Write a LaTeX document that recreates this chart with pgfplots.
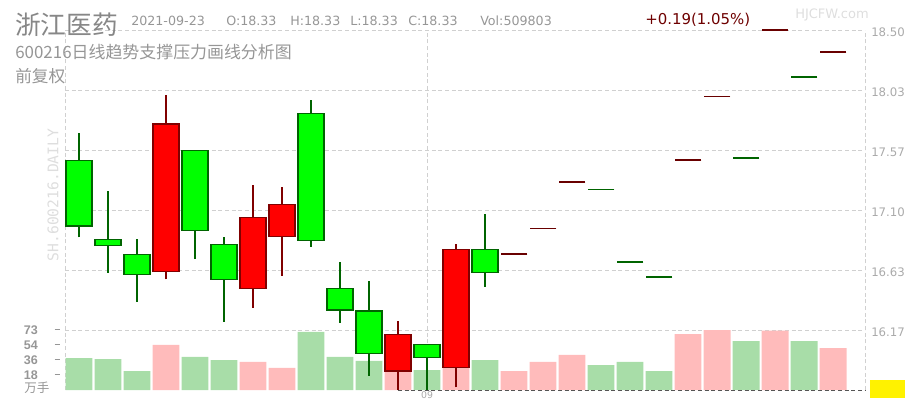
\documentclass[border=0pt]{standalone}
\usepackage{pgfplots}
\pgfplotsset{compat=1.18}
\usepackage{fontspec}
\setmainfont{DejaVu Sans}
\newfontfamily\cjk{Noto Sans CJK SC}
\newfontfamily\lsans{Liberation Sans}
\newfontfamily\mono{DejaVu Sans Mono}
\definecolor{gridc}{RGB}{208,208,208}
\definecolor{txtg}{RGB}{150,150,150}
\definecolor{titleg}{RGB}{135,135,135}
\definecolor{tickg}{RGB}{170,170,170}
\definecolor{wm}{RGB}{222,222,222}
\definecolor{cgreen}{RGB}{0,255,0}
\definecolor{cgreenb}{RGB}{0,100,0}
\definecolor{cred}{RGB}{255,0,0}
\definecolor{credb}{RGB}{128,0,0}
\definecolor{vgreen}{RGB}{168,221,168}
\definecolor{vred}{RGB}{255,187,187}
\definecolor{pred}{RGB}{105,0,0}
\definecolor{pgreen}{RGB}{0,100,0}
\definecolor{chg}{RGB}{110,0,0}
\definecolor{basel}{RGB}{85,85,85}
\pgfplotsset{base/.style={at={(48.75pt,7.5pt)}, anchor=south west, scale only axis,
  width=600pt, height=270pt, xmin=0.5172, xmax=28.1034}}
% candle: position, body top, body bottom, high, low, fill, border
\newcommand{\candle}[7]{%
  \pgfmathsetmacro\xa{#1-0.45}\pgfmathsetmacro\xb{#1+0.45}%
  \addplot[#7, line width=1pt] coordinates {(#1,#5) (#1,#4)};
  \edef\doplot{\noexpand\addplot[fill=#6, draw=#7, line width=1pt, line join=miter, line cap=rect]
    coordinates {(\xa,#3) (\xa,#2) (\xb,#2) (\xb,#3) (\xa,#3)};}\doplot}
\newcommand{\gc}[5]{\candle{#1}{#2}{#3}{#4}{#5}{cgreen}{cgreenb}}
\newcommand{\rc}[5]{\candle{#1}{#2}{#3}{#4}{#5}{cred}{credb}}
\newcommand{\vl}[1]{#1\hspace{12.75pt}{\color{txtg}\rule[2.9pt]{3.75pt}{0.75pt}}}
\begin{document}
\begin{tikzpicture}
\path[use as bounding box] (0,0) rectangle (678.75pt,300pt);
% grid axis
\begin{axis}[base, ymin=15.70, ymax=18.50,
  axis line style={draw=none},
  ytick={16.1667,16.6333,17.1,17.5667,18.0333,18.5},
  yticklabels={16.17,16.63,17.10,17.57,18.03,18.50},
  yticklabel pos=right,
  ymajorgrids, xmajorgrids,
  grid style={gridc, dash pattern=on 3pt off 2pt, line width=0.6pt},
  major tick length=0pt,
  xtick={13}, xticklabels={09},
  extra x ticks={0.5172,28.1034}, extra x tick labels={},
  extra x tick style={grid=major},
  yticklabel style={font=\fontsize{8.8}{10}\selectfont, text=tickg, anchor=west, inner sep=0pt, xshift=4.5pt, yshift=-1.5pt},
  xticklabel style={font=\fontsize{7}{8}\selectfont, text=tickg, anchor=north, inner sep=0pt, yshift=-1.2pt},
]
\end{axis}
% volume axis
\begin{axis}[base, ymin=0, ymax=438,
  axis line style={draw=none}, xtick=\empty,
  ytick={18.25,36.5,54.75,73},
  yticklabels={\vl{18},\vl{36},\vl{54},\vl{73}},
  major tick length=0pt,
  yticklabel style={font=\lsans\bfseries\fontsize{9.4}{10}\selectfont, text=txtg, anchor=east, inner sep=0pt, xshift=-3.75pt},
]
\addplot[ybar, bar width=0.93, bar shift=0pt, fill=vgreen, draw=none] coordinates {
 (1,38.9) (2,37.7) (3,23.1) (5,40.2) (6,36.5) (9,70.6) (10,40.2) (11,35.3) (13,24.3)
 (15,36.5) (19,30.4) (20,34.1) (21,23.1) (24,59.6) (26,59.6)};
\addplot[ybar, bar width=0.93, bar shift=0pt, fill=vred, draw=none] coordinates {
 (4,54.8) (7,34.1) (8,26.8) (12,22.3) (14,27.0) (16,23.1) (17,34.1) (18,42.6)
 (22,68.1) (23,73.0) (25,72.2) (27,51.1)};
\end{axis}
% candle axis
\begin{axis}[base, ymin=15.70, ymax=18.50, hide axis, clip=false]
\addplot[draw=basel, dash pattern=on 3pt off 2pt, line width=0.75pt] coordinates {(12,15.70) (28.1034,15.70)};
\gc{1}{17.486}{16.976}{17.701}{16.888}
\gc{2}{16.872}{16.825}{17.248}{16.612}
\gc{3}{16.755}{16.600}{16.874}{16.387}
\rc{4}{17.769}{16.620}{17.994}{16.561}
\gc{5}{17.564}{16.942}{17.564}{16.717}
\gc{6}{16.833}{16.561}{16.888}{16.229}
\rc{7}{17.043}{16.491}{17.292}{16.340}
\rc{8}{17.144}{16.895}{17.279}{16.589}
\gc{9}{17.852}{16.864}{17.956}{16.815}
\gc{10}{16.491}{16.322}{16.698}{16.223}
\gc{11}{16.314}{15.985}{16.548}{15.811}
\rc{12}{16.133}{15.848}{16.239}{15.700}
\gc{13}{16.055}{15.954}{16.055}{15.700}
\rc{14}{16.794}{15.877}{16.836}{15.721}
\gc{15}{16.794}{16.615}{17.069}{16.503}
\addplot[only marks, mark=-, mark size=10.1pt, mark options={draw=pred, line width=1.1pt}] coordinates {
 (16,16.758) (17,16.958) (18,17.318) (22,17.489) (23,17.984) (25,18.50) (27,18.329)};
\addplot[only marks, mark=-, mark size=10.1pt, mark options={draw=pgreen, line width=1.1pt}] coordinates {
 (19,17.261) (20,16.696) (21,16.579) (24,17.504) (26,18.134)};
\end{axis}
\begin{scope}[x=0.75pt, y=-0.75pt, yshift=300pt]
\node[anchor=west, inner sep=0, text=titleg, font=\cjk\fontsize{19.3}{20}\selectfont] at (15,25) {浙江医药};
\node[anchor=west, inner sep=0, text=txtg, font=\fontsize{9.5}{11}\selectfont] at (131,21) {2021-09-23};
\node[anchor=west, inner sep=0, text=txtg, font=\fontsize{9.5}{11}\selectfont] at (226,21) {O:18.33};
\node[anchor=west, inner sep=0, text=txtg, font=\fontsize{9.5}{11}\selectfont] at (290,21) {H:18.33};
\node[anchor=west, inner sep=0, text=txtg, font=\fontsize{9.5}{11}\selectfont] at (350,21) {L:18.33};
\node[anchor=west, inner sep=0, text=txtg, font=\fontsize{9.5}{11}\selectfont] at (408,21) {C:18.33};
\node[anchor=west, inner sep=0, text=txtg, font=\fontsize{9.5}{11}\selectfont] at (480,21) {Vol:509803};
\node[anchor=west, inner sep=0, text=chg, font=\fontsize{11.2}{13}\selectfont] at (645,20) {+0.19(1.05\%)};
\node[anchor=west, inner sep=0, text=wm, font=\fontsize{9.75}{11}\selectfont] at (795,15) {HJCFW.com};
\node[anchor=west, inner sep=0, text=txtg, font=\cjk\fontsize{12.7}{14}\selectfont] at (15,52.5) {600216日线趋势支撑压力画线分析图};
\node[anchor=west, inner sep=0, text=txtg, font=\cjk\fontsize{12.5}{14}\selectfont] at (15,76) {前复权};
\node[rotate=90, inner sep=0, text=wm, font=\mono\fontsize{11}{12}\selectfont] at (53,195) {SH.600216.DAILY};
\node[anchor=west, inner sep=0, text=txtg, font=\cjk\fontsize{9.4}{10}\selectfont] at (24,388) {万手};
\fill[yellow] (870,380) rectangle (905,398);
\end{scope}
\end{tikzpicture}
\end{document}
